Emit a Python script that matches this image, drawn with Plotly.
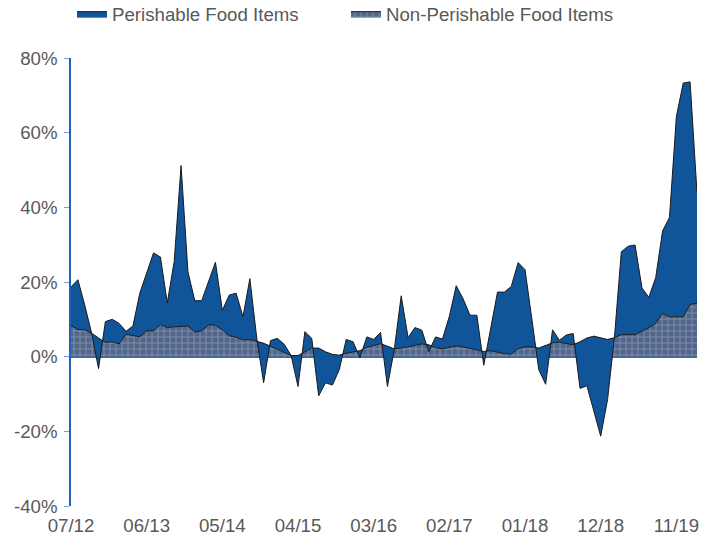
import pandas as pd
import plotly.graph_objects as go

# Monthly categories 07/12 .. 02/20
months = list(pd.date_range("2012-07-01", periods=92, freq="MS").strftime("%m/%y"))
x_tick_labels = ["07/12", "06/13", "05/14", "04/15", "03/16", "02/17", "01/18", "12/18", "11/19"]
y_tick_values = [-40, -20, 0, 20, 40, 60, 80]
y_tick_labels = ["-40%", "-20%", "0%", "20%", "40%", "60%", "80%"]

# Non-perishable food items (bottom layer, %)
non_perishable = [
    8.3, 7.3, 7.2, 6.3, 5.0, 3.8, 4.0, 3.4, 6.0, 5.7,
    5.3, 6.9, 6.9, 8.6, 7.8, 8.0, 8.1, 8.2, 6.6, 6.9,
    8.5, 8.4, 7.2, 5.6, 5.2, 4.5, 4.6, 4.2, 3.6, 2.8,
    2.0, 1.3, 0.3, 0.3, 1.4, 2.3, 2.3, 1.3, 0.6, 0.4,
    0.9, 1.2, 1.6, 2.5, 2.9, 3.5, 2.8, 2.1, 2.3, 2.6,
    3.0, 3.4, 3.2, 2.4, 2.1, 2.5, 2.9, 2.6, 2.2, 2.0,
    1.4, 1.6, 1.2, 0.8, 0.7, 2.1, 2.6, 2.6, 2.3, 2.9,
    3.7, 3.8, 3.6, 3.2, 4.0, 5.0, 5.5, 5.0, 4.6, 5.1,
    5.9, 5.9, 5.9, 6.8, 7.7, 8.9, 11.6, 10.7, 10.7, 10.7,
    14.0, 14.3,
]

# Perishable food items (stacked on top, %)
perishable = [
    10.4, 13.3, 6.6, 0.0, -8.2, 5.6, 6.0, 5.5, 0.8, 2.5,
    11.7, 15.4, 20.9, 18.1, 6.6, 17.5, 43.1, 14.5, 8.4, 8.1,
    11.5, 16.9, 5.2, 10.9, 11.8, 6.2, 16.3, 0.8, -10.6, 1.5,
    2.9, 2.0, 0.0, -8.3, 5.3, 2.6, -12.8, -8.3, -8.2, -3.9,
    3.7, 2.8, -1.9, 2.8, 1.7, 3.0, -10.8, -0.1, 14.0, 2.5,
    4.8, 3.7, -1.9, 2.9, 2.6, 8.3, 16.1, 12.9, 8.9, 9.1,
    -3.7, 5.4, 16.1, 16.5, 18.1, 23.1, 20.7, 7.4, -5.8, -10.3,
    3.5, 0.6, 2.2, 3.0, -12.5, -12.8, -20.0, -26.3, -16.1, 0.1,
    22.2, 23.7, 24.0, 11.6, 8.2, 12.3, 22.1, 26.6, 53.6, 62.6,
    59.6, 29.6,
]

FONT = "Liberation Sans, Arial, sans-serif"
TXT = "#595959"

fig = go.Figure()
fig.add_trace(go.Scatter(
    x=months, y=non_perishable, name="Non-Perishable Food Items",
    stackgroup="one", mode="lines",
    line=dict(color="#1a1a1a", width=1),
    fillcolor="#52668a",
    fillpattern=dict(shape="+", bgcolor="#52668a", fgcolor="#a9b6cc",
                     size=6, solidity=0.3),
    hoverinfo="skip",
))
fig.add_trace(go.Scatter(
    x=months, y=perishable, name="Perishable Food Items",
    stackgroup="one", mode="lines",
    line=dict(color="#1a1a1a", width=1),
    fillcolor="#10549a",
    hoverinfo="skip",
))

fig.update_layout(
    width=713, height=542,
    margin=dict(l=71, r=16, t=58, b=36, autoexpand=False),
    paper_bgcolor="white", plot_bgcolor="white",
    font=dict(family=FONT, size=18.67, color=TXT),
    showlegend=True,
    legend=dict(orientation="h", x=0.0016, xanchor="left", y=1.1406, yanchor="top",
                traceorder="reversed", entrywidth=229, entrywidthmode="pixels",
                itemwidth=30, font=dict(family=FONT, size=18.67, color=TXT),
                bgcolor="rgba(0,0,0,0)"),
    xaxis=dict(type="category", range=[0, len(months) - 1],
               tickmode="array", tickvals=x_tick_labels, ticktext=x_tick_labels,
               showgrid=False, showline=False, ticks="", zeroline=False,
               ticklabelstandoff=6,
               tickfont=dict(family=FONT, size=18.67, color=TXT)),
    yaxis=dict(range=[-40, 80], tickmode="array", tickvals=y_tick_values,
               ticktext=y_tick_labels, showgrid=False,
               showline=True, linecolor="#1f64b4", linewidth=1.5,
               ticks="outside", ticklen=5, tickwidth=1, tickcolor="#6fa0d8",
               ticklabelstandoff=3,
               zeroline=True, zerolinecolor="#1f6fc8", zerolinewidth=3,
               tickfont=dict(family=FONT, size=18.67, color=TXT)),
)

fig.write_html("out.html", config={"displayModeBar": False},
               post_script="document.body.style.margin='0';")
